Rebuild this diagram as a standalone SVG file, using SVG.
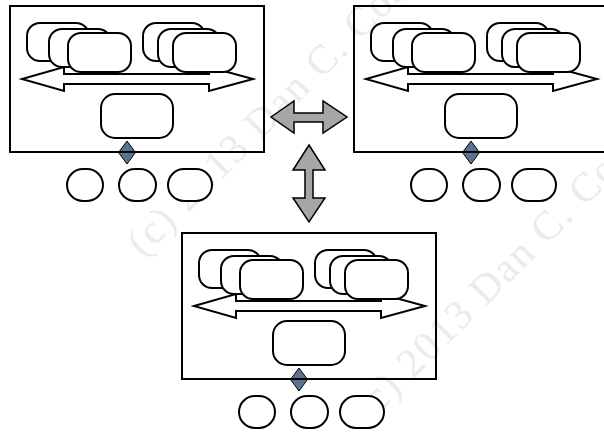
<svg xmlns="http://www.w3.org/2000/svg" width="604" height="432" viewBox="0 0 604 432">
<style>
  .frame{fill:none;stroke:#000;stroke-width:2}
  .box{fill:#fff;stroke:#000;stroke-width:2}
  .harrow{fill:#fff;stroke:#000;stroke-width:2;stroke-linejoin:miter}
  .dia{fill:#5b7392;stroke:#000;stroke-width:1}
  .link{fill:#a6a6a6;stroke:#000;stroke-width:1.5;stroke-linejoin:miter}
  .wm{font-family:"Liberation Serif",serif;font-size:41px;letter-spacing:2px;fill:#ebebeb}
</style>
<rect width="604" height="432" fill="#fff"/>
<g id="watermark">
  <text class="wm" transform="translate(143,258) rotate(-45)">(c) 2013 Dan C. Cos</text>
  <text class="wm" transform="translate(368,424) rotate(-45)">(c) 2013 Dan C. Cos</text>
</g>
<defs>
  <g id="panel">
    <path class="harrow" d="M22,79 L64,67 L64,74 L209,74 L209,67 L253,79 L209,91 L209,84 L64,84 L64,91 Z"/>
    <rect class="box" x="27" y="23" width="62" height="38" rx="13"/>
    <rect class="box" x="49" y="29" width="62" height="38" rx="13"/>
    <rect class="box" x="68" y="33" width="63" height="39" rx="13"/>
    <rect class="box" x="143" y="23" width="62" height="38" rx="13"/>
    <rect class="box" x="158" y="29" width="62" height="38" rx="13"/>
    <rect class="box" x="173" y="33" width="63" height="39" rx="13"/>
    <rect class="box" x="101" y="94" width="72" height="44" rx="14"/>
    <path class="dia" d="M127,141 L135.5,152.5 L127,164 L118.5,152.5 Z"/>
    <rect class="frame" x="10" y="6" width="254" height="146"/>
    <rect class="box" x="67" y="169" width="36" height="32" rx="16"/>
    <rect class="box" x="119" y="169" width="37" height="32" rx="16"/>
    <rect class="box" x="168" y="169" width="44" height="32" rx="16"/>
  </g>
</defs>
<g id="node-top-left"><use href="#panel"/></g>
<g id="node-top-right" transform="translate(344,0)"><use href="#panel"/></g>
<g id="node-bottom" transform="translate(172,227)"><use href="#panel"/></g>
<g id="connectors">
  <path class="link" d="M271,117 L294,101 L294,113 L323,113 L323,101 L347,117 L323,133 L323,122 L294,122 L294,133 Z"/>
  <path class="link" d="M309,145 L325,170 L313,170 L313,198 L325,198 L309,222 L293,198 L305,198 L305,170 L293,170 Z"/>
</g>
</svg>
